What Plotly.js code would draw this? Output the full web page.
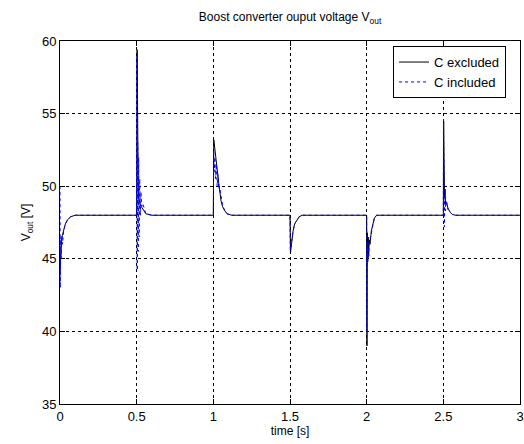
<!DOCTYPE html>
<html>
<head>
<meta charset="utf-8">
<script src="https://cdn.plot.ly/plotly-3.0.1.min.js"></script>
<style>html,body{margin:0;padding:0;background:#fff;}#chart{width:524px;height:444px;}</style>
</head>
<body>
<div id="chart"></div>
<script>
// C excluded (black solid)
var timeExcluded = [
  0, 0.003, 0.008, 0.015, 0.025, 0.035, 0.05, 0.07, 0.1,
  0.5, 0.503, 0.506, 0.51, 0.515, 0.52, 0.53, 0.545, 0.56, 0.6,
  1.0, 1.003, 1.01, 1.02, 1.03, 1.04, 1.05, 1.06, 1.075, 1.09, 1.12,
  1.5, 1.503, 1.51, 1.52, 1.53, 1.545, 1.56, 1.58, 1.6,
  2.0, 2.002, 2.004, 2.007, 2.01, 2.013, 2.017, 2.022, 2.03, 2.04, 2.05, 2.065, 2.1,
  2.5, 2.502, 2.505, 2.508, 2.511, 2.514, 2.52, 2.53, 2.545, 2.56, 2.58, 3.0
];
var voltageExcluded = [
  44, 45.5, 46, 46.6, 47, 47.4, 47.7, 47.9, 48,
  48, 59.4, 53, 50, 49, 48.8, 48.6, 48.3, 48.1, 48,
  48, 53.2, 52.5, 51.5, 50.5, 49.8, 49, 48.6, 48.3, 48.1, 48,
  48, 45.4, 46.2, 46.9, 47.4, 47.7, 47.9, 48, 48,
  48, 39, 46.8, 44.8, 46.5, 45.2, 46.3, 46, 46.9, 47.3, 47.8, 48, 48,
  48, 54.5, 50.5, 49.2, 49.8, 48.8, 48.9, 48.5, 48.2, 48.05, 48, 48
];
// C included (blue dashed)
var timeIncluded = [
  0, 0.001, 0.002, 0.005, 0.008, 0.012, 0.016, 0.025, 0.035, 0.05, 0.07, 0.1,
  0.5, 0.502, 0.504, 0.507, 0.51, 0.513, 0.516, 0.52, 0.524, 0.528, 0.533, 0.54, 0.55, 0.56, 0.6,
  1.0, 1.002, 1.006, 1.01, 1.015, 1.02, 1.025, 1.03, 1.035, 1.04, 1.05, 1.06, 1.075, 1.09, 1.12,
  1.5, 1.502, 1.51, 1.52, 1.53, 1.545, 1.56, 1.58, 1.6,
  2.0, 2.001, 2.003, 2.006, 2.009, 2.012, 2.016, 2.022, 2.03, 2.04, 2.05, 2.065, 2.1,
  2.5, 2.501, 2.504, 2.507, 2.51, 2.514, 2.52, 2.53, 2.545, 2.56, 2.58, 3.0
];
var voltageIncluded = [
  50, 48, 43, 46.5, 45, 46.6, 46, 47, 47.4, 47.7, 47.9, 48,
  48, 59, 44.2, 53, 45.5, 52, 46.5, 50.5, 48, 49.6, 48.6, 48.8, 48.4, 48.1, 48,
  48, 52.5, 51, 52, 50.5, 51.5, 50, 50.8, 49.8, 50, 49.2, 48.7, 48.3, 48.1, 48,
  48, 45.6, 46.3, 46.9, 47.4, 47.7, 47.9, 48, 48,
  48, 40, 46, 44.8, 46.2, 45, 46, 46.3, 46.9, 47.4, 47.8, 48, 48,
  48, 54.6, 49.5, 47.2, 49.8, 48.3, 49, 48.4, 48.2, 48.05, 48, 48
];
var xTicks = [0, 0.5, 1, 1.5, 2, 2.5, 3];
var xTickLabels = ['0', '0.5', '1', '1.5', '2', '2.5', '3'];
var yTicks = [35, 40, 45, 50, 55, 60];

var fam = 'Liberation Sans, Arial, sans-serif';
var font = {family: fam, size: 12, color: '#000'};
var tickFont = {family: fam, size: 13, color: '#000'};

var traces = [
  {x: timeExcluded, y: voltageExcluded, name: 'C excluded', mode: 'lines',
   line: {color: '#000000', width: 1}},
  {x: timeIncluded, y: voltageIncluded, name: 'C included', mode: 'lines',
   line: {color: '#0000ff', width: 1, dash: '3px,3px'}}
];

var axisCommon = {
  showline: true, linecolor: '#000', linewidth: 1, mirror: 'ticks',
  ticks: 'inside', ticklen: 5, tickcolor: '#000',
  showgrid: true, gridcolor: '#000', gridwidth: 1, griddash: '3px,3px',
  zeroline: false, tickfont: tickFont
};

var layout = {
  width: 524, height: 444,
  margin: {l: 60, r: 4, t: 41, b: 40},
  paper_bgcolor: '#fff', plot_bgcolor: '#fff',
  font: font,
  showlegend: true,
  title: {text: 'Boost converter ouput voltage V<sub>out</sub>', font: {family: fam, size: 12, color: '#000'},
          x: 0.5, xref: 'paper', xanchor: 'center', y: 0.962, yref: 'container', yanchor: 'middle'},
  xaxis: Object.assign({}, axisCommon, {
    range: [0, 3], tickvals: xTicks, ticktext: xTickLabels,
    title: {text: 'time [s]', font: font, standoff: 4}
  }),
  yaxis: Object.assign({}, axisCommon, {
    range: [35, 60], tickvals: yTicks,
    title: {text: 'V<sub>out</sub> [V]', font: font, standoff: 8}
  }),
  legend: {
    x: 0.724, y: 0.986, xanchor: 'left', yanchor: 'top',
    bgcolor: '#fff', bordercolor: '#000', borderwidth: 1,
    font: {family: fam, size: 13, color: '#000'}, tracegroupgap: 0, itemwidth: 30
  }
};

Plotly.newPlot('chart', traces, layout, {displayModeBar: false, staticPlot: true});
</script>
</body>
</html>
